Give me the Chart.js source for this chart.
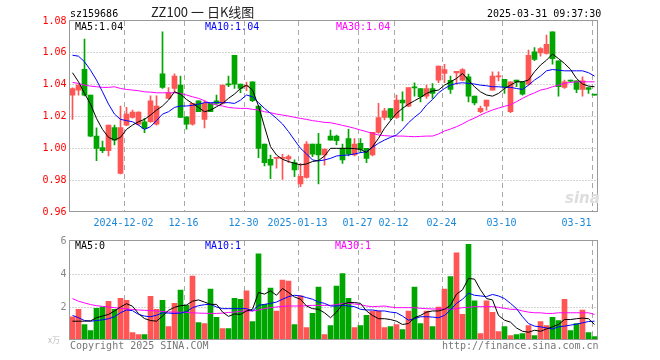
<!DOCTYPE html>
<html>
<head>
<meta charset="utf-8">
<script src="https://cdn.jsdelivr.net/npm/chart.js@4.4.1/dist/chart.umd.min.js"></script>
<style>
body { margin: 0; background: #fff; width: 660px; height: 360px; overflow: hidden; position: relative; }
canvas { position: absolute; left: 0; }
.t { position: absolute; white-space: pre; font: 10px/12px 'DejaVu Sans Mono', monospace; color: #000; }
</style>
</head>
<body>
<canvas id="kline" width="660" height="236" style="top:0"></canvas>
<canvas id="vol" width="660" height="128" style="top:232px"></canvas>

<div class="t" style="left:70px;top:8px">sz159686</div>
<div class="t" style="left:151px;top:4px;font:13px/16px 'Noto Sans CJK SC',sans-serif;color:#222">ZZ100 一 日K线图</div>
<div class="t" style="left:487px;top:8px">2025-03-31 09:37:30</div>

<div class="t" style="left:75px;top:21px">MA5:1.04</div>
<div class="t" style="left:205px;top:21px;color:#0000ff">MA10:1.04</div>
<div class="t" style="left:336px;top:21px;color:#ff00ff">MA30:1.04</div>

<div class="t" style="left:75px;top:240px">MA5:0</div>
<div class="t" style="left:205px;top:240px;color:#0000ff">MA10:1</div>
<div class="t" style="left:335px;top:240px;color:#ff00ff">MA30:1</div>

<div class="t" style="left:565px;top:190px;font:italic bold 15px/17px 'DejaVu Sans',sans-serif;color:#dddddd">sina</div>
<div class="t" style="left:48px;top:335px;font:8px/10px 'Noto Sans CJK SC',sans-serif;color:#bbb">x万</div>
<div class="t" style="left:70px;top:340px;color:#777">Copyright 2025 SINA.COM</div>
<div class="t" style="left:442px;top:340px;color:#777">http://finance.sina.com.cn</div>

<script>
// trading days shown (2024-11-19 .. 2025-03-31)
const dates = [
    '2024-11-19','2024-11-20','2024-11-21','2024-11-22','2024-11-25','2024-11-26','2024-11-27','2024-11-28','2024-11-29',
    '2024-12-02','2024-12-03','2024-12-04','2024-12-05','2024-12-06','2024-12-09','2024-12-10','2024-12-11','2024-12-12','2024-12-13',
    '2024-12-16','2024-12-17','2024-12-18','2024-12-19','2024-12-20','2024-12-23','2024-12-24','2024-12-25','2024-12-26','2024-12-27',
    '2024-12-30','2024-12-31',
    '2025-01-02','2025-01-03','2025-01-06','2025-01-07','2025-01-08','2025-01-09','2025-01-10','2025-01-13','2025-01-14','2025-01-15',
    '2025-01-16','2025-01-17','2025-01-20','2025-01-21','2025-01-22','2025-01-23','2025-01-24','2025-01-27',
    '2025-02-05','2025-02-06','2025-02-07','2025-02-10','2025-02-11','2025-02-12','2025-02-13','2025-02-14','2025-02-17','2025-02-18',
    '2025-02-19','2025-02-20','2025-02-21','2025-02-24','2025-02-25','2025-02-26','2025-02-27','2025-02-28',
    '2025-03-03','2025-03-04','2025-03-05','2025-03-06','2025-03-07','2025-03-10','2025-03-11','2025-03-12','2025-03-13','2025-03-14',
    '2025-03-17','2025-03-18','2025-03-19','2025-03-20','2025-03-21','2025-03-24','2025-03-25','2025-03-26','2025-03-27','2025-03-28',
    '2025-03-31',
];

const open = [
    1.0334, 1.0366, 1.0497, 1.0334, 1.0077, 1.0004, 0.9985, 1.0131, 0.9843, 1.0146,
    1.0194, 1.0152, 1.0167, 1.0167, 1.0152, 1.0468, 1.0313, 1.0376, 1.0397, 1.0198,
    1.0152, 1.0299, 1.0182, 1.0282, 1.0299, 1.0282, 1.0403, 1.0585, 1.0403, 1.0387,
    1.0418, 1.0265, 1.0027, 0.9931, 0.9937, 0.9937, 0.9933, 0.9910, 0.9776, 0.9818,
    1.0027, 1.0027, 0.9958, 1.0077, 1.0077, 1.0000, 1.0062, 0.9958, 1.0031, 1.0000,
    0.9958, 1.0100, 1.0194, 1.0249, 1.0194, 1.0303, 1.0265, 1.0384, 1.0376, 1.0328,
    1.0376, 1.0428, 1.0470, 1.0428, 1.0474, 1.0428, 1.0449, 1.0328, 1.0230, 1.0265,
    1.0366, 1.0449, 1.0433, 1.0230, 1.0429, 1.0418, 1.0403, 1.0606, 1.0600, 1.0596,
    1.0732, 1.0550, 1.0382, 1.0425, 1.0424, 1.0370, 1.0382, 1.0336,
];
const high = [
    1.0380, 1.0400, 1.0686, 1.0334, 1.0129, 1.0046, 1.0146, 1.0146, 1.0265, 1.0257,
    1.0240, 1.0230, 1.0188, 1.0330, 1.0330, 1.0732, 1.0382, 1.0468, 1.0454, 1.0198,
    1.0282, 1.0299, 1.0299, 1.0282, 1.0334, 1.0397, 1.0454, 1.0585, 1.0403, 1.0416,
    1.0418, 1.0265, 1.0027, 0.9958, 0.9941, 0.9962, 0.9958, 0.9927, 0.9906, 1.0042,
    1.0027, 1.0094, 0.9995, 1.0115, 1.0084, 1.0027, 1.0119, 1.0062, 1.0062, 1.0000,
    1.0100, 1.0282, 1.0251, 1.0249, 1.0334, 1.0355, 1.0382, 1.0412, 1.0376, 1.0397,
    1.0407, 1.0516, 1.0528, 1.0454, 1.0484, 1.0501, 1.0466, 1.0328, 1.0265, 1.0303,
    1.0481, 1.0481, 1.0433, 1.0418, 1.0429, 1.0418, 1.0617, 1.0633, 1.0633, 1.0711,
    1.0732, 1.0550, 1.0429, 1.0429, 1.0424, 1.0449, 1.0382, 1.0336,
];
const low = [
    1.0182, 1.0334, 1.0330, 1.0073, 0.9922, 0.9973, 0.9952, 1.0021, 0.9839, 1.0142,
    1.0190, 1.0146, 1.0098, 1.0163, 1.0146, 1.0376, 1.0313, 1.0355, 1.0194, 1.0121,
    1.0146, 1.0230, 1.0129, 1.0230, 1.0276, 1.0278, 1.0387, 1.0376, 1.0349, 1.0363,
    1.0293, 0.9941, 0.9889, 0.9809, 0.9875, 0.9805, 0.9910, 0.9822, 0.9759, 0.9812,
    0.9947, 0.9776, 0.9895, 1.0052, 1.0021, 0.9906, 0.9952, 0.9952, 0.9973, 0.9910,
    0.9952, 1.0094, 1.0178, 1.0178, 1.0188, 1.0172, 1.0261, 1.0328, 1.0292, 1.0314,
    1.0314, 1.0412, 1.0412, 1.0345, 1.0403, 1.0424, 1.0292, 1.0272, 1.0224, 1.0240,
    1.0366, 1.0424, 1.0345, 1.0224, 1.0387, 1.0334, 1.0397, 1.0550, 1.0579, 1.0592,
    1.0529, 1.0328, 1.0376, 1.0418, 1.0349, 1.0328, 1.0345, 1.0334,
];
const close = [
    1.0376, 1.0397, 1.0334, 1.0077, 0.9999, 0.9985, 1.0146, 1.0052, 1.0131, 1.0215,
    1.0228, 1.0228, 1.0125, 1.0299, 1.0265, 1.0382, 1.0349, 1.0454, 1.0194, 1.0152,
    1.0282, 1.0230, 1.0282, 1.0230, 1.0282, 1.0397, 1.0399, 1.0403, 1.0376, 1.0391,
    1.0299, 1.0000, 0.9910, 0.9895, 0.9941, 0.9941, 0.9948, 0.9864, 0.9824, 1.0027,
    0.9964, 0.9958, 0.9995, 1.0052, 1.0048, 0.9927, 0.9964, 1.0027, 0.9993, 0.9937,
    1.0100, 1.0194, 1.0236, 1.0194, 1.0303, 1.0286, 1.0382, 1.0380, 1.0324, 1.0376,
    1.0345, 1.0516, 1.0495, 1.0370, 1.0484, 1.0495, 1.0328, 1.0286, 1.0251, 1.0303,
    1.0454, 1.0454, 1.0387, 1.0418, 1.0418, 1.0341, 1.0585, 1.0558, 1.0627, 1.0654,
    1.0564, 1.0387, 1.0418, 1.0422, 1.0370, 1.0424, 1.0370, 1.0334,
];

// moving averages as drawn in the picture
const ma5 = [
    1.0475, 1.0418, 1.0345, 1.0278, 1.0188, 1.0119, 1.0069, 1.0052, 1.0069, 1.0119,
    1.0146, 1.0167, 1.0182, 1.0209, 1.0240, 1.0266, 1.0303, 1.0355, 1.0340, 1.0307,
    1.0282, 1.0257, 1.0230, 1.0240, 1.0261, 1.0282, 1.0314, 1.0341, 1.0376, 1.0397,
    1.0366, 1.0266, 1.0136, 1.0011, 0.9958, 0.9931, 0.9917, 0.9906, 0.9896, 0.9902,
    0.9917, 0.9923, 0.9952, 1.0000, 1.0000, 1.0000, 1.0000, 0.9998, 0.9994, 0.9973,
    1.0011, 1.0063, 1.0126, 1.0174, 1.0220, 1.0251, 1.0278, 1.0299, 1.0320, 1.0345,
    1.0360, 1.0366, 1.0397, 1.0418, 1.0439, 1.0470, 1.0429, 1.0387, 1.0355, 1.0335,
    1.0328, 1.0345, 1.0376, 1.0397, 1.0418, 1.0418, 1.0429, 1.0481, 1.0523, 1.0554,
    1.0592, 1.0564, 1.0533, 1.0496, 1.0439, 1.0404, 1.0391, 1.0387,
];
const ma10 = [
    1.0585, 1.0579, 1.0544, 1.0491, 1.0429, 1.0355, 1.0278, 1.0215, 1.0182, 1.0174,
    1.0167, 1.0146, 1.0119, 1.0136, 1.0174, 1.0215, 1.0230, 1.0257, 1.0266, 1.0266,
    1.0270, 1.0278, 1.0287, 1.0287, 1.0287, 1.0287, 1.0287, 1.0282, 1.0303, 1.0335,
    1.0324, 1.0287, 1.0251, 1.0220, 1.0188, 1.0153, 1.0105, 1.0052, 1.0000, 0.9965,
    0.9927, 0.9921, 0.9927, 0.9937, 0.9952, 0.9956, 0.9958, 0.9965, 0.9973, 0.9979,
    1.0006, 1.0032, 1.0052, 1.0069, 1.0084, 1.0119, 1.0161, 1.0195, 1.0225, 1.0272,
    1.0307, 1.0349, 1.0376, 1.0397, 1.0408, 1.0412, 1.0408, 1.0404, 1.0397, 1.0393,
    1.0387, 1.0387, 1.0383, 1.0383, 1.0376, 1.0370, 1.0397, 1.0429, 1.0454, 1.0487,
    1.0495, 1.0491, 1.0487, 1.0487, 1.0487, 1.0487, 1.0475, 1.0454,
];
const ma30 = [
    1.0414, 1.0408, 1.0397, 1.0391, 1.0387, 1.0383, 1.0383, 1.0387, 1.0376, 1.0370,
    1.0366, 1.0362, 1.0355, 1.0353, 1.0349, 1.0349, 1.0349, 1.0349, 1.0345, 1.0335,
    1.0324, 1.0314, 1.0299, 1.0282, 1.0272, 1.0266, 1.0257, 1.0253, 1.0251, 1.0251,
    1.0245, 1.0241, 1.0230, 1.0224, 1.0215, 1.0209, 1.0203, 1.0195, 1.0188, 1.0182,
    1.0174, 1.0169, 1.0163, 1.0161, 1.0153, 1.0144, 1.0136, 1.0126, 1.0115, 1.0105,
    1.0094, 1.0084, 1.0080, 1.0077, 1.0077, 1.0077, 1.0075, 1.0073, 1.0075, 1.0077,
    1.0077, 1.0090, 1.0109, 1.0121, 1.0136, 1.0153, 1.0174, 1.0190, 1.0209, 1.0226,
    1.0241, 1.0253, 1.0264, 1.0274, 1.0293, 1.0314, 1.0333, 1.0349, 1.0366, 1.0374,
    1.0387, 1.0397, 1.0408, 1.0414, 1.0418, 1.0418, 1.0418, 1.0418,
];

const volume = [
    1.41, 1.86, 0.94, 0.57, 1.92, 2.00, 2.35, 1.86, 2.53, 2.41,
    0.45, 0.33, 0.33, 2.65, 1.86, 2.41, 0.82, 2.22, 3.02, 2.10,
    3.88, 1.06, 1.00, 3.08, 1.37, 0.69, 0.69, 2.53, 2.47, 2.98,
    1.12, 5.22, 2.16, 3.14, 1.76, 3.63, 3.57, 0.94, 2.67, 0.76,
    1.61, 3.20, 0.33, 0.88, 3.27, 4.02, 2.53, 0.76, 0.88, 1.49,
    1.76, 1.76, 0.76, 0.82, 0.94, 0.63, 1.76, 3.20, 1.00, 1.76,
    0.82, 2.00, 3.08, 3.84, 5.29, 1.55, 5.80, 2.37, 0.39, 2.37,
    1.67, 0.51, 0.82, 0.27, 0.33, 0.39, 0.88, 0.27, 1.12, 0.88,
    1.37, 1.18, 2.47, 0.57, 1.00, 1.82, 0.45, 0.20,
];
const vma5 = [
    1.14, 1.14, 1.14, 1.16, 1.35, 1.45, 1.55, 1.76, 2.00, 2.20,
    2.05, 1.60, 1.30, 1.18, 1.14, 1.45, 1.80, 1.98, 2.08, 2.12,
    2.35, 2.43, 2.30, 2.16, 2.16, 1.70, 1.43, 1.58, 1.55, 1.76,
    1.86, 2.88, 2.78, 2.98, 2.71, 3.12, 2.88, 2.61, 2.47, 2.06,
    1.90, 1.86, 1.65, 1.35, 1.69, 2.16, 2.27, 2.27, 2.22, 1.76,
    1.49, 1.29, 1.29, 1.24, 1.14, 0.94, 1.00, 1.35, 1.49, 1.69,
    1.76, 1.76, 1.86, 2.10, 2.78, 3.04, 3.73, 3.69, 3.04, 2.51,
    2.43, 1.49, 1.20, 1.08, 0.73, 0.53, 0.47, 0.59, 0.53, 0.67,
    0.80, 0.94, 1.24, 1.24, 1.29, 1.33, 1.29, 0.94,
];
const vma10 = [
    1.49, 1.35, 1.18, 1.14, 1.18, 1.22, 1.29, 1.41, 1.65, 1.82,
    1.78, 1.55, 1.45, 1.41, 1.50, 1.65, 1.63, 1.61, 1.63, 1.72,
    1.96, 2.08, 2.14, 2.16, 2.00, 1.90, 1.90, 1.90, 1.90, 1.90,
    1.76, 2.10, 2.16, 2.22, 2.30, 2.47, 2.63, 2.71, 2.67, 2.57,
    2.47, 2.30, 2.22, 2.06, 2.06, 2.10, 2.06, 2.02, 1.86, 1.82,
    1.82, 1.76, 1.76, 1.69, 1.65, 1.45, 1.20, 1.29, 1.41, 1.41,
    1.39, 1.35, 1.49, 1.82, 2.22, 2.47, 2.84, 2.71, 2.67, 2.63,
    2.76, 2.67, 2.51, 2.22, 1.90, 1.41, 1.00, 0.84, 0.80, 0.73,
    0.67, 0.80, 0.84, 0.90, 0.96, 1.04, 1.12, 1.14,
];
const vma30 = [
    2.51, 2.35, 2.25, 2.15, 2.08, 2.04, 2.00, 1.96, 1.92, 1.88,
    1.85, 1.82, 1.80, 1.78, 1.76, 1.73, 1.70, 1.69, 1.68, 1.67,
    1.65, 1.63, 1.62, 1.61, 1.61, 1.63, 1.67, 1.69, 1.74, 1.76,
    1.76, 1.82, 1.90, 1.96, 2.00, 2.04, 2.06, 2.06, 2.06, 2.08,
    2.10, 2.10, 2.10, 2.10, 2.14, 2.22, 2.22, 2.18, 2.14, 2.06,
    2.02, 2.04, 2.06, 2.00, 1.96, 1.96, 1.96, 1.96, 1.92, 1.90,
    1.88, 1.88, 1.88, 1.86, 1.90, 1.96, 1.98, 2.02, 2.02, 2.02,
    2.02, 1.98, 1.92, 1.86, 1.86, 1.76, 1.69, 1.65, 1.65, 1.61,
    1.61, 1.65, 1.65, 1.65, 1.65, 1.65, 1.65, 1.55,
];

// dates that get a dashed line and a label under the price panel
const axisDates = ['2024-12-02', '2024-12-16', '2024-12-30', '2025-01-13', '2025-01-27', '2025-02-12', '2025-02-24', '2025-03-10', '2025-03-31'];
const axisText = ['2024-12-02', '12-16', '12-30', '2025-01-13', '01-27', '02-12', '02-24', '03-10', '03-31'];

const UP = '#ff5555';
const DOWN = '#00a600';
const GRID = '#a8a8a8';
const MONO = "'DejaVu Sans Mono', monospace";
const barColors = close.map((c, i) => (c >= open[i] ? UP : DOWN));

function strokeGrid(chart) {
    const { ctx, chartArea: a, scales: { x, y } } = chart;
    ctx.lineWidth = 1;
    ctx.strokeStyle = GRID;

    // dotted lines at the inner value ticks
    ctx.setLineDash([1, 2]);
    y.ticks.forEach((t) => {
        if (t.value <= y.min || t.value >= y.max) return;
        const py = Math.floor(y.getPixelForValue(t.value)) + 0.5;
        ctx.beginPath();
        ctx.moveTo(a.left, py);
        ctx.lineTo(a.right, py);
        ctx.stroke();
    });

    // dashed lines on the left edge of each labelled day's slot
    ctx.setLineDash([5, 4]);
    const half = (x.getPixelForTick(1) - x.getPixelForTick(0)) / 2;
    dates.forEach((d, i) => {
        if (!axisDates.includes(d)) return;
        const px = Math.round(x.getPixelForTick(i) - half) + 0.5;
        ctx.beginPath();
        ctx.moveTo(px, a.top);
        ctx.lineTo(px, a.bottom);
        ctx.stroke();
    });
    ctx.setLineDash([]);
}

// grid goes behind what is already drawn, then the solid frame on top
const panelPlugin = {
    id: 'sinaPanel',
    afterDraw(chart) {
        const { ctx, chartArea: a } = chart;
        ctx.save();
        ctx.globalCompositeOperation = 'destination-over';
        strokeGrid(chart);
        ctx.restore();

        const l = Math.round(a.left) - 0.5;
        const t = Math.round(a.top) - 0.5;
        const r = Math.round(a.right) - 0.5;
        const b = Math.round(a.bottom) - 0.5;
        ctx.save();
        ctx.strokeStyle = '#999';
        ctx.lineWidth = 1;
        ctx.strokeRect(l, t, r - l, b - t);
        ctx.restore();
    },
};

function xAxis(showLabels, height) {
    return {
        type: 'category',
        offset: true,
        grid: { display: false, drawTicks: false },
        border: { display: false },
        ticks: {
            display: showLabels,
            autoSkip: false,
            maxRotation: 0,
            padding: 5,
            labelOffset: -3,
            color: '#1a88d8',
            font: { family: MONO, size: 10 },
            callback: (val, idx) => {
                const k = axisDates.indexOf(dates[idx]);
                if (k < 0) return '';
                // last label sits left of its line, like the original
                return idx === dates.length - 1 ? axisText[k] + '     ' : axisText[k];
            },
        },
        afterFit: (scale) => { scale.height = height; },
    };
}

function yAxis(min, max, step, color, fmt) {
    return {
        min, max,
        grid: { display: false, drawTicks: false },
        border: { display: false },
        ticks: { stepSize: step, padding: 3, color, font: { family: MONO, size: 10 }, callback: fmt },
        afterFit: (scale) => { scale.width = 69.5; },
    };
}

function lineSet(data, color) {
    return { type: 'line', data, borderColor: color, borderWidth: 1, pointRadius: 0, tension: 0, fill: false, order: 0 };
}

function baseOptions() {
    return {
        responsive: false,
        animation: false,
        events: [],
        plugins: { legend: { display: false }, tooltip: { enabled: false } },
    };
}

new Chart(document.getElementById('kline'), {
    type: 'bar',
    data: {
        labels: dates,
        datasets: [
            lineSet(ma5, '#000000'),
            lineSet(ma10, '#0000ff'),
            lineSet(ma30, '#ff00ff'),
            {
                data: open.map((o, i) => [o, close[i]]),
                backgroundColor: barColors,
                barThickness: 5,
                minBarLength: 1,
                grouped: false,
                order: 1,
            },
            {
                data: low.map((l, i) => [l, high[i]]),
                backgroundColor: barColors,
                barThickness: 1,
                grouped: false,
                order: 2,
            },
        ],
    },
    options: {
        ...baseOptions(),
        layout: { padding: { top: 21, right: 62.5, left: 0, bottom: 0 } },
        scales: {
            x: xAxis(true, 24),
            y: yAxis(0.96, 1.08, 0.02, '#ff0000', (v) => v.toFixed(2)),
        },
    },
    plugins: [panelPlugin],
});

new Chart(document.getElementById('vol'), {
    type: 'bar',
    data: {
        labels: dates,
        datasets: [
            lineSet(vma5, '#000000'),
            lineSet(vma10, '#0000ff'),
            lineSet(vma30, '#ff00ff'),
            {
                data: volume,
                backgroundColor: barColors,
                barThickness: 5,
                grouped: false,
                order: 1,
            },
        ],
    },
    options: {
        ...baseOptions(),
        layout: { padding: { top: 8, right: 62.5, left: 0, bottom: 0 } },
        scales: {
            x: xAxis(false, 20),
            y: yAxis(0, 6, 2, '#888', (v) => (v === 0 ? '' : String(v))),
        },
    },
    plugins: [panelPlugin],
});
</script>
</body>
</html>
